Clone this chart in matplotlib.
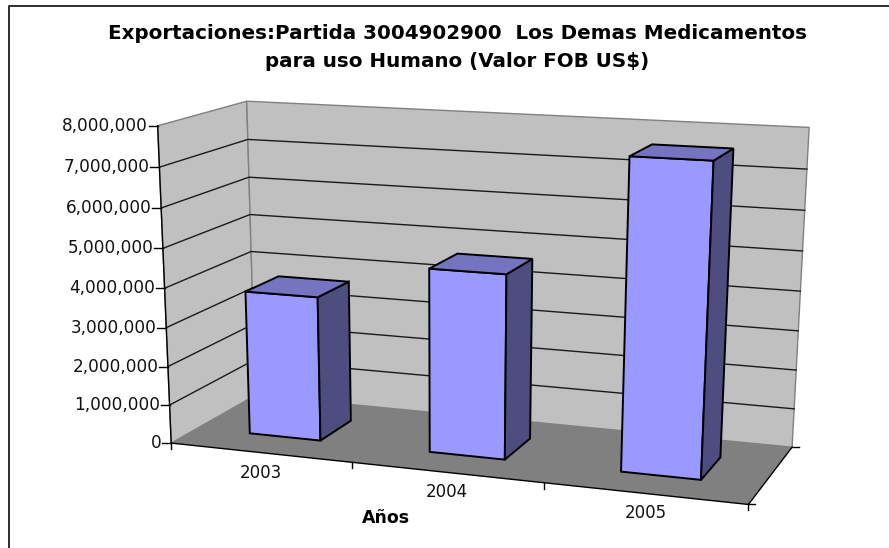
import numpy as np
import matplotlib
matplotlib.use('Agg')
from matplotlib import pyplot as plt
from matplotlib.patches import Polygon

# data
years = ['2003', '2004', '2005']
values = [3720000, 4650000, 7630000]
yticks = [0, 1000000, 2000000, 3000000, 4000000, 5000000, 6000000, 7000000, 8000000]
ymax = 8000000
title1 = 'Exportaciones:Partida 3004902900  Los Demas Medicamentos'
title2 = 'para uso Humano (Valor FOB US$)'
xlabel = 'Años'

# the box of the chart: (u, depth, height) in 0..1 -> pixel, fitted to a camera matrix
box_pts = [(0, 0, 0), (0, 0, 1), (0, 1, 0), (0, 1, 1), (1, 1, 0), (1, 1, 1), (1, 0, 0), (1/3, 0, 0), (2/3, 0, 0)]
box_px = [(172.7, 443.3), (156.7, 125), (254, 395), (247.7, 101.7), (792.7, 446.7), (809, 127.7), (748.3, 504.3), (351.7, 462.7), (543, 483)]

rows = []
rhs = []
for (u, d, h), (px, py) in zip(box_pts, box_px):
    rows.append([u, d, h, 1, 0, 0, 0, 0, -px*u, -px*d, -px*h])
    rows.append([0, 0, 0, 0, u, d, h, 1, -py*u, -py*d, -py*h])
    rhs += [px, py]
sol = np.linalg.lstsq(np.array(rows, dtype=float), np.array(rhs, dtype=float), rcond=None)[0]
cam = np.append(sol, 1).reshape(3, 4)


def proj(u, d, h):
    p = cam @ np.array([u, d, h, 1.0])
    return p[0]/p[2], p[1]/p[2]


fig = plt.figure(figsize=(8.89, 5.48), dpi=100)
ax = fig.add_axes([0, 0, 1, 1])
ax.set_xlim(0, 889)
ax.set_ylim(548, 0)
ax.axis('off')

# walls and floor
ax.add_patch(Polygon([proj(0, 0, 0), proj(0, 0, 1), proj(0, 1, 1), proj(0, 1, 0)], fc='#C0C0C0', ec='#808080', lw=1))
ax.add_patch(Polygon([proj(0, 1, 0), proj(0, 1, 1), proj(1, 1, 1), proj(1, 1, 0)], fc='#C0C0C0', ec='#808080', lw=1))
ax.add_patch(Polygon([proj(0, 0, 0), proj(0, 1, 0), proj(1, 1, 0), proj(1, 0, 0)], fc='#808080', ec='none'))

# gridlines
for v in yticks[1:-1]:
    h = v/ymax
    pts = [proj(0, 0, h), proj(0, 1, h), proj(1, 1, h)]
    ax.plot([p[0] for p in pts], [p[1] for p in pts], c='#1a1a1a', lw=1)

# axis lines
line = [proj(0, 0, 1), proj(0, 0, 0), proj(1, 0, 0), proj(1, 1, 0)]
ax.plot([p[0] for p in line], [p[1] for p in line], c='black', lw=1)

for v in yticks:
    x, y = proj(0, 0, v/ymax)
    ax.plot([x-9, x], [y, y], c='black', lw=1)
    ax.text(x-9.5, y, f'{v:,}', ha='right', va='center', fontsize=12.2, color='#111111')

for i in range(4):
    x, y = proj(i/3, 0, 0)
    ax.plot([x, x], [y, y+6], c='black', lw=1)
x, y = proj(1, 0, 0)
ax.plot([x, x+7], [y, y], c='black', lw=1)
x, y = proj(1, 1, 0)
ax.plot([x, x+7], [y, y], c='black', lw=1)

# bars
bar_w = 0.4/3
gap = (1/3-bar_w)/2
d0, d1 = 0.3, 0.7
for i, val in enumerate(values):
    u0 = i/3+gap
    u1 = u0+bar_w
    h = val/ymax
    ax.add_patch(Polygon([proj(u0, d0, 0), proj(u0, d0, h), proj(u1, d0, h), proj(u1, d0, 0)], fc='#9999FF', ec='black', lw=1.4, zorder=5))
    ax.add_patch(Polygon([proj(u1, d0, 0), proj(u1, d0, h), proj(u1, d1, h), proj(u1, d1, 0)], fc='#4D4D80', ec='black', lw=1.4, zorder=5))
    ax.add_patch(Polygon([proj(u0, d0, h), proj(u0, d1, h), proj(u1, d1, h), proj(u1, d0, h)], fc='#7474C0', ec='black', lw=1.4, zorder=5))
    x, y = proj((i+0.5)/3, 0, 0)
    ax.text(x+1, y+20, years[i], ha='center', va='center', fontsize=12, color='#111111')

ax.text(386, 518, xlabel, ha='center', va='center', fontsize=12.5, fontweight='bold')
ax.text(457.5, 33.5, title1, ha='center', va='center', fontsize=14.35, fontweight='bold')
ax.text(457.5, 61.5, title2, ha='center', va='center', fontsize=14.35, fontweight='bold')

# chart frame, only left and top are inside the picture
ax.plot([9, 9, 889], [548, 6, 6], c='#333333', lw=1.44)

fig.savefig('out.png', dpi=100)
